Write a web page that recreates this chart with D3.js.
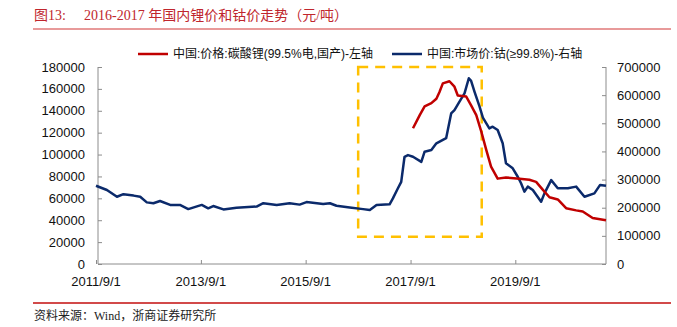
<!DOCTYPE html>
<html><head><meta charset="utf-8">
<script src="https://cdn.jsdelivr.net/npm/d3@7/dist/d3.min.js"></script>
<style>body{margin:0;background:#fff;} svg{display:block;}</style>
</head><body>
<svg id="c" width="677" height="327"></svg>
<script>
const titleText = "图13:";
const titleText2 = "2016-2017 年国内锂价和钴价走势（元/吨）";
const sourceText = "资料来源：Wind，浙商证券研究所";
const seriesNames = ["中国:价格:碳酸锂(99.5%电,国产)-左轴", "中国:市场价:钴(≥99.8%)-右轴"];
const xTickLabels = ["2011/9/1", "2013/9/1", "2015/9/1", "2017/9/1", "2019/9/1"];
const leftTicks = [0,20000,40000,60000,80000,100000,120000,140000,160000,180000];
const rightTicks = [0,100000,200000,300000,400000,500000,600000,700000];
const xDomain = ["2011-09-01", "2021-05-25"];
const boxDates = ["2016-09-01", "2019-01-10"];
const boxValues = [25000, 180000];

const cobaltDates = ["2011-09-01","2011-11-16","2012-01-25","2012-03-10","2012-05-20","2012-07-05","2012-08-20","2012-10-05","2012-11-20","2013-01-30","2013-04-08","2013-06-05","2013-09-07","2013-10-22","2013-11-26","2014-02-05","2014-05-07","2014-09-24","2014-11-10","2015-02-11","2015-05-12","2015-07-21","2015-09-07","2016-01-01","2016-02-17","2016-04-03","2016-07-04","2016-10-05","2016-11-21","2017-01-07","2017-04-08","2017-05-01","2017-06-05","2017-06-28","2017-07-21","2017-08-14","2017-09-18","2017-11-15","2017-12-08","2018-01-24","2018-02-28","2018-05-07","2018-06-11","2018-07-04","2018-08-08","2018-09-12","2018-10-12","2018-10-28","2018-11-21","2018-12-26","2019-01-18","2019-02-11","2019-03-04","2019-03-27","2019-05-01","2019-06-05","2019-06-28","2019-08-14","2019-09-18","2019-10-11","2019-11-04","2019-11-27","2020-01-01","2020-02-28","2020-03-22","2020-05-08","2020-06-23","2020-09-01","2020-10-29","2020-12-26","2021-03-05","2021-04-14","2021-05-25"];
const cobaltValues = [278000,263000,239000,248000,243000,239000,219000,216000,224000,210000,210000,195000,210000,198000,206000,194000,200000,204000,216000,210000,216000,211000,220000,213000,216000,207000,201000,195000,192000,210000,212000,233000,269000,292000,381000,387000,381000,363000,399000,405000,429000,447000,535000,547000,577000,606000,660000,651000,612000,559000,520000,500000,482000,488000,476000,429000,358000,340000,310000,287000,257000,275000,263000,221000,251000,298000,269000,269000,275000,239000,251000,281000,278000];

const lithiumDates = ["2017-09-18","2017-11-04","2017-12-08","2018-01-24","2018-02-28","2018-03-21","2018-04-14","2018-05-30","2018-07-04","2018-07-27","2018-09-24","2018-10-28","2018-12-03","2019-01-07","2019-02-11","2019-03-16","2019-05-01","2019-06-28","2019-09-30","2019-12-08","2020-01-24","2020-03-10","2020-04-26","2020-06-23","2020-08-20","2020-10-29","2020-12-14","2021-02-21","2021-05-25"];
const lithiumValues = [124000,136000,144000,147000,151000,157000,165000,167000,162000,154000,153000,145000,136000,121000,104000,89000,78000,79000,78000,77000,75000,68000,61000,59000,51000,49000,48000,42000,40000];

const parse = d3.timeParse("%Y-%m-%d");
const svg = d3.select("#c");
const L = 98, R = 606, T = 67, B = 264;

const x = d3.scaleTime().domain(xDomain.map(parse)).range([96, R]);
const yL = d3.scaleLinear().domain([0, 180000]).range([B, T]);
const yR = d3.scaleLinear().domain([0, 700000]).range([B, T]);

// title
svg.append("text").attr("x", 34).attr("y", 20).attr("fill", "#C0262D")
  .style("font-family", "'Liberation Serif','Noto Sans CJK SC',serif").style("font-size", "14px").text(titleText);
svg.append("text").attr("x", 84).attr("y", 20).attr("fill", "#C0262D")
  .style("font-family", "'Liberation Serif','Noto Sans CJK SC',serif").style("font-size", "14px").text(titleText2);
svg.append("line").attr("x1", 33).attr("x2", 671).attr("y1", 29).attr("y2", 29)
  .attr("stroke", "#E89A9A").attr("stroke-width", 2);
svg.append("line").attr("x1", 33).attr("x2", 671).attr("y1", 303).attr("y2", 303)
  .attr("stroke", "#D24A4A").attr("stroke-width", 2);
svg.append("text").attr("x", 34).attr("y", 320).attr("fill", "#222")
  .style("font-family", "'Liberation Serif','Noto Sans CJK SC',serif").style("font-size", "12px").text(sourceText);

const font = "'Liberation Sans',Arial,sans-serif";
const axisColor = "#8c8c8c";

// left axis
const gl = svg.append("g").attr("transform", `translate(${L},0)`)
  .call(d3.axisRight(yL).tickValues(leftTicks).tickSize(4).tickFormat(""));
gl.selectAll("line,path").attr("stroke", axisColor);
gl.select("path").attr("d", `M0,${T}V${B}`);
leftTicks.forEach(v => {
  svg.append("text").attr("x", 85).attr("y", yL(v)).attr("dy", "0.35em").attr("text-anchor", "end")
    .style("font-family", font).style("font-size", "13px").attr("fill", "#111").text(v);
});
// right axis
const gr = svg.append("g").attr("transform", `translate(${R},0)`)
  .call(d3.axisLeft(yR).tickValues(rightTicks).tickSize(4).tickFormat(""));
gr.selectAll("line,path").attr("stroke", axisColor);
gr.select("path").attr("d", `M0,${T}V${B}`);
rightTicks.forEach(v => {
  svg.append("text").attr("x", 617).attr("y", yR(v)).attr("dy", "0.35em").attr("text-anchor", "start")
    .style("font-family", font).style("font-size", "13px").attr("fill", "#111").text(v);
});
// x axis
const xTickDates = xTickLabels.map(s => d3.timeParse("%Y/%m/%d")(s));
const gx = svg.append("g").attr("transform", `translate(0,${B})`)
  .call(d3.axisTop(x).tickValues(xTickDates).tickSize(4).tickFormat(""));
gx.selectAll("line,path").attr("stroke", axisColor);
gx.select("path").attr("d", `M${L},0H${R}`);
xTickLabels.forEach((s, i) => {
  svg.append("text").attr("x", x(xTickDates[i])).attr("y", 286).attr("text-anchor", "middle")
    .style("font-family", font).style("font-size", "13px").attr("fill", "#111").text(s);
});

// dashed box
svg.append("rect")
  .attr("x", x(parse(boxDates[0]))).attr("y", yL(boxValues[1]))
  .attr("width", x(parse(boxDates[1])) - x(parse(boxDates[0])))
  .attr("height", yL(boxValues[0]) - yL(boxValues[1]))
  .attr("fill", "none").attr("stroke", "#FFC000").attr("stroke-width", 2.5).attr("stroke-dasharray", "10,7");

// lines
const cobalt = cobaltDates.map((d, i) => [parse(d), cobaltValues[i]]);
const lithium = lithiumDates.map((d, i) => [parse(d), lithiumValues[i]]);
svg.append("path").datum(cobalt).attr("fill", "none").attr("stroke", "#0B2A6B").attr("stroke-width", 2.5)
  .attr("stroke-linejoin", "round")
  .attr("d", d3.line().x(d => x(d[0])).y(d => yR(d[1])));
svg.append("path").datum(lithium).attr("fill", "none").attr("stroke", "#C00000").attr("stroke-width", 2.5)
  .attr("stroke-linejoin", "round")
  .attr("d", d3.line().x(d => x(d[0])).y(d => yL(d[1])));

// legend
const legendColors = ["#C00000", "#0B2A6B"];
const legendX = [138, 392];
seriesNames.forEach((n, i) => {
  svg.append("line").attr("x1", legendX[i]).attr("x2", legendX[i] + 30).attr("y1", 54).attr("y2", 54)
    .attr("stroke", legendColors[i]).attr("stroke-width", 2.5);
  svg.append("text").attr("x", legendX[i] + 35).attr("y", 54).attr("dy", "0.35em")
    .style("font-family", font + ",'Noto Sans CJK SC'").style("font-size", "12px").attr("fill", "#111").text(n);
});
</script>
</body></html>
